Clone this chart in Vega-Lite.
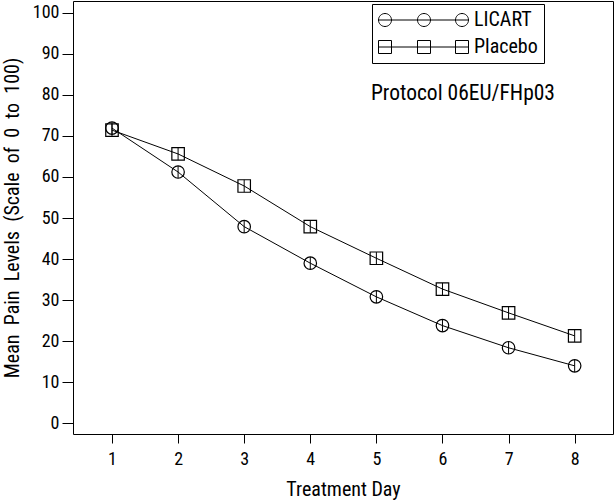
{
  "$schema": "https://vega.github.io/schema/vega-lite/v6.json",
  "width": 540,
  "height": 433,
  "autosize": {"type": "none"},
  "padding": {"left": 73, "top": 1, "right": 3, "bottom": 66},
  "background": "white",
  "config": {
    "font": "Roboto Condensed, Noto Sans Condensed, Liberation Sans Narrow, DejaVu Sans Condensed, sans-serif",
    "view": {"stroke": "black", "strokeWidth": 1},
    "axis": {
      "domain": false,
      "grid": false,
      "tickColor": "black",
      "tickWidth": 1,
      "labelColor": "black",
      "labelFontSize": 18,
      "titleColor": "black",
      "titleFontSize": 20,
      "titleFontWeight": "normal"
    }
  },
  "datasets": {
    "pain": [
      {"day": 1, "group": "LICART", "mean": 71.9, "lo": 70.4, "hi": 73.4},
      {"day": 2, "group": "LICART", "mean": 61.2, "lo": 59.7, "hi": 62.7},
      {"day": 3, "group": "LICART", "mean": 47.9, "lo": 46.4, "hi": 49.4},
      {"day": 4, "group": "LICART", "mean": 39.0, "lo": 37.5, "hi": 40.5},
      {"day": 5, "group": "LICART", "mean": 30.8, "lo": 29.3, "hi": 32.3},
      {"day": 6, "group": "LICART", "mean": 23.8, "lo": 22.3, "hi": 25.3},
      {"day": 7, "group": "LICART", "mean": 18.4, "lo": 16.9, "hi": 19.9},
      {"day": 8, "group": "LICART", "mean": 14.0, "lo": 12.5, "hi": 15.5},
      {"day": 1, "group": "Placebo", "mean": 71.4, "lo": 69.9, "hi": 72.9},
      {"day": 2, "group": "Placebo", "mean": 65.6, "lo": 64.1, "hi": 67.1},
      {"day": 3, "group": "Placebo", "mean": 57.8, "lo": 56.3, "hi": 59.3},
      {"day": 4, "group": "Placebo", "mean": 47.9, "lo": 46.4, "hi": 49.4},
      {"day": 5, "group": "Placebo", "mean": 40.2, "lo": 38.7, "hi": 41.7},
      {"day": 6, "group": "Placebo", "mean": 32.7, "lo": 31.2, "hi": 34.2},
      {"day": 7, "group": "Placebo", "mean": 26.9, "lo": 25.4, "hi": 28.4},
      {"day": 8, "group": "Placebo", "mean": 21.3, "lo": 19.8, "hi": 22.8}
    ],
    "note": [
      {"label": "Protocol 06EU/FHp03"}
    ]
  },
  "layer": [
    {
      "data": {"name": "pain"},
      "mark": {"type": "line", "color": "black", "strokeWidth": 1},
      "encoding": {
        "x": {
          "field": "day",
          "type": "quantitative",
          "scale": {"domain": [0.41, 8.58], "nice": false, "zero": false},
          "axis": {
            "values": [1, 2, 3, 4, 5, 6, 7, 8],
            "format": "d",
            "tickSize": 9,
            "labelPadding": 7,
            "title": "Treatment Day",
            "titleX": 270,
            "titleY": 61,
            "titleBaseline": "alphabetic",
            "titleAlign": "center"
          }
        },
        "y": {
          "field": "mean",
          "type": "quantitative",
          "scale": {"domain": [-2.6, 102.85], "nice": false, "zero": false},
          "axis": {
            "values": [0, 10, 20, 30, 40, 50, 60, 70, 80, 90, 100],
            "tickSize": 11,
            "labelPadding": 3,
            "title": "Mean\u00a0 Pain\u00a0 Levels\u00a0 (Scale\u00a0 of\u00a0 0\u00a0 to\u00a0 100)",
            "titleX": -55,
            "titleY": 216.5,
            "titleAngle": -90,
            "titleBaseline": "alphabetic",
            "titleAlign": "center"
          }
        },
        "detail": {"field": "group"}
      }
    },
    {
      "data": {"name": "pain"},
      "mark": {"type": "rule", "color": "black", "strokeWidth": 1},
      "encoding": {
        "x": {"field": "day", "type": "quantitative"},
        "y": {"field": "lo", "type": "quantitative"},
        "y2": {"field": "hi"},
        "detail": {"field": "group"}
      }
    },
    {
      "data": {"name": "pain"},
      "mark": {"type": "point", "filled": false, "color": "black", "strokeWidth": 1.2, "size": 156, "opacity": 1},
      "encoding": {
        "x": {"field": "day", "type": "quantitative"},
        "y": {"field": "mean", "type": "quantitative"},
        "shape": {
          "field": "group",
          "type": "nominal",
          "scale": {"domain": ["LICART", "Placebo"], "range": ["circle", "square"]},
          "legend": null
        }
      }
    },
    {
      "data": {"name": "pain"},
      "mark": {"type": "point", "filled": false, "color": "black", "size": 0, "strokeWidth": 1},
      "encoding": {
        "x": {"field": "day", "type": "quantitative"},
        "y": {"field": "mean", "type": "quantitative"},
        "shape": {
          "field": "group",
          "type": "nominal",
          "scale": {
            "domain": ["LICART", "Placebo"],
            "range": [
              "M-1.9,0H16.1M-1.9,0A1.3,1.3,0,1,1,0.7,0A1.3,1.3,0,1,1,-1.9,0M5.9,0A1.3,1.3,0,1,1,8.5,0A1.3,1.3,0,1,1,5.9,0M13.5,0A1.3,1.3,0,1,1,16.1,0A1.3,1.3,0,1,1,13.5,0",
              "M-1.9,0H16.1M-1.9,-1.3H0.7V1.3H-1.9ZM5.9,-1.3H8.5V1.3H5.9ZM13.5,-1.3H16.1V1.3H13.5Z"
            ]
          },
          "legend": {
            "title": null,
            "orient": "none",
            "legendX": 299,
            "legendY": 3,
            "strokeColor": "black",
            "padding": 6,
            "symbolSize": 100,
            "symbolStrokeColor": "black",
            "symbolStrokeWidth": 1,
            "symbolFillColor": "transparent",
            "symbolOpacity": 1,
            "labelFontSize": 20,
            "labelColor": "black",
            "labelOffset": 76,
            "rowPadding": 7
          }
        }
      }
    },
    {
      "data": {"name": "note"},
      "mark": {"type": "text", "fontSize": 21.5, "color": "black", "align": "center", "baseline": "alphabetic"},
      "encoding": {
        "x": {"datum": 6.31, "type": "quantitative"},
        "y": {"datum": 78.7, "type": "quantitative"},
        "text": {"field": "label", "type": "nominal"}
      }
    }
  ],
  "resolve": {"scale": {"shape": "independent"}}
}
